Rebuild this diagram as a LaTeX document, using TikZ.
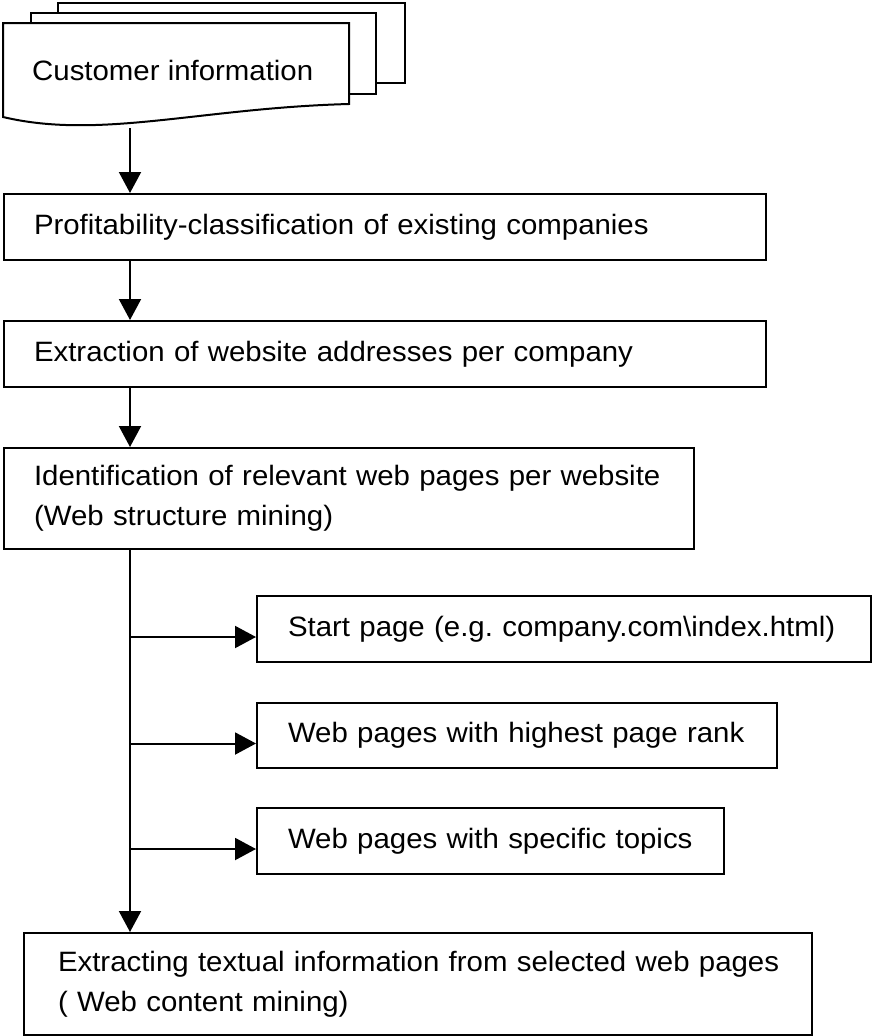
\documentclass[tikz,border=0pt]{standalone}
\usepackage{fontspec}
\setmainfont[FakeStretch=1.05]{Liberation Sans}
\usetikzlibrary{arrows.meta, calc}
\frenchspacing

\begin{document}
\begin{tikzpicture}[x=1pt, y=-1pt, line join=miter,
  procbox/.style={draw, line width=2pt, anchor=north west, align=left,
    inner xsep=30pt, inner ysep=3pt, font=\fontsize{28}{40}\selectfont},
  flow/.style={line width=2pt, -{Triangle[length=21pt, width=22pt]}},
  docpage/.style={draw, line width=2pt, fill=white}]
  \useasboundingbox (0,0) rectangle (871,1036);

  % Stack of customer documents
  \draw[docpage] (58,3) rectangle (405,83);
  \draw[docpage] (31,13) rectangle (376,94);
  \draw[docpage] (3,23) -- (349,23) -- (349,104)
    .. controls (200,108) and (100,140) .. (3,117) -- cycle;
  \node[anchor=west, inner sep=0pt, font=\fontsize{28}{40}\selectfont] (cust) at (32,70) {Customer information};

  % Main process steps
  \node[procbox, text width=702pt, minimum height=66pt] (prof) at (3,193)
    {Profitability-classification of existing companies};
  \node[procbox, text width=702pt, minimum height=66pt] (addr) at (3,320)
    {Extraction of website addresses per company};
  \node[procbox, text width=630pt, minimum height=101pt] (ident) at (3,447)
    {\mbox{Identification of relevant web pages per website}\\(Web structure mining)};
  \node[procbox, inner xsep=34pt, text width=720pt, minimum height=102pt] (extr) at (23,932)
    {\mbox{Extracting textual information from selected web pages}\\( Web content mining)};

  % Selected kinds of pages
  \node[procbox, inner xsep=31pt, text width=552pt, minimum height=66pt] (start) at (256,595)
    {\mbox{Start page (e.g. company.com\textbackslash index.html)}};
  \node[procbox, inner xsep=31pt, text width=458pt, minimum height=65pt] (rank) at (256,702)
    {Web pages with highest page rank};
  \node[procbox, inner xsep=31pt, text width=405pt, minimum height=66pt] (topic) at (256,807)
    {Web pages with specific topics};

  % Spine of the flow
  \coordinate (spine) at (130,0);
  \coordinate (docout) at (130,128);

  % Connectors
  \draw[flow] (docout) -- (spine |- prof.north);
  \draw[flow] (spine |- prof.south) -- (spine |- addr.north);
  \draw[flow] (spine |- addr.south) -- (spine |- ident.north);
  \draw[flow] (spine |- ident.south) -- (spine |- extr.north);

  % Branches to the page kinds
  \foreach \pg in {start, rank, topic}
    \draw[flow] (spine |- {$(\pg.west)+(0,8)$}) -- ($(\pg.west)+(0,8)$);
\end{tikzpicture}
\end{document}
